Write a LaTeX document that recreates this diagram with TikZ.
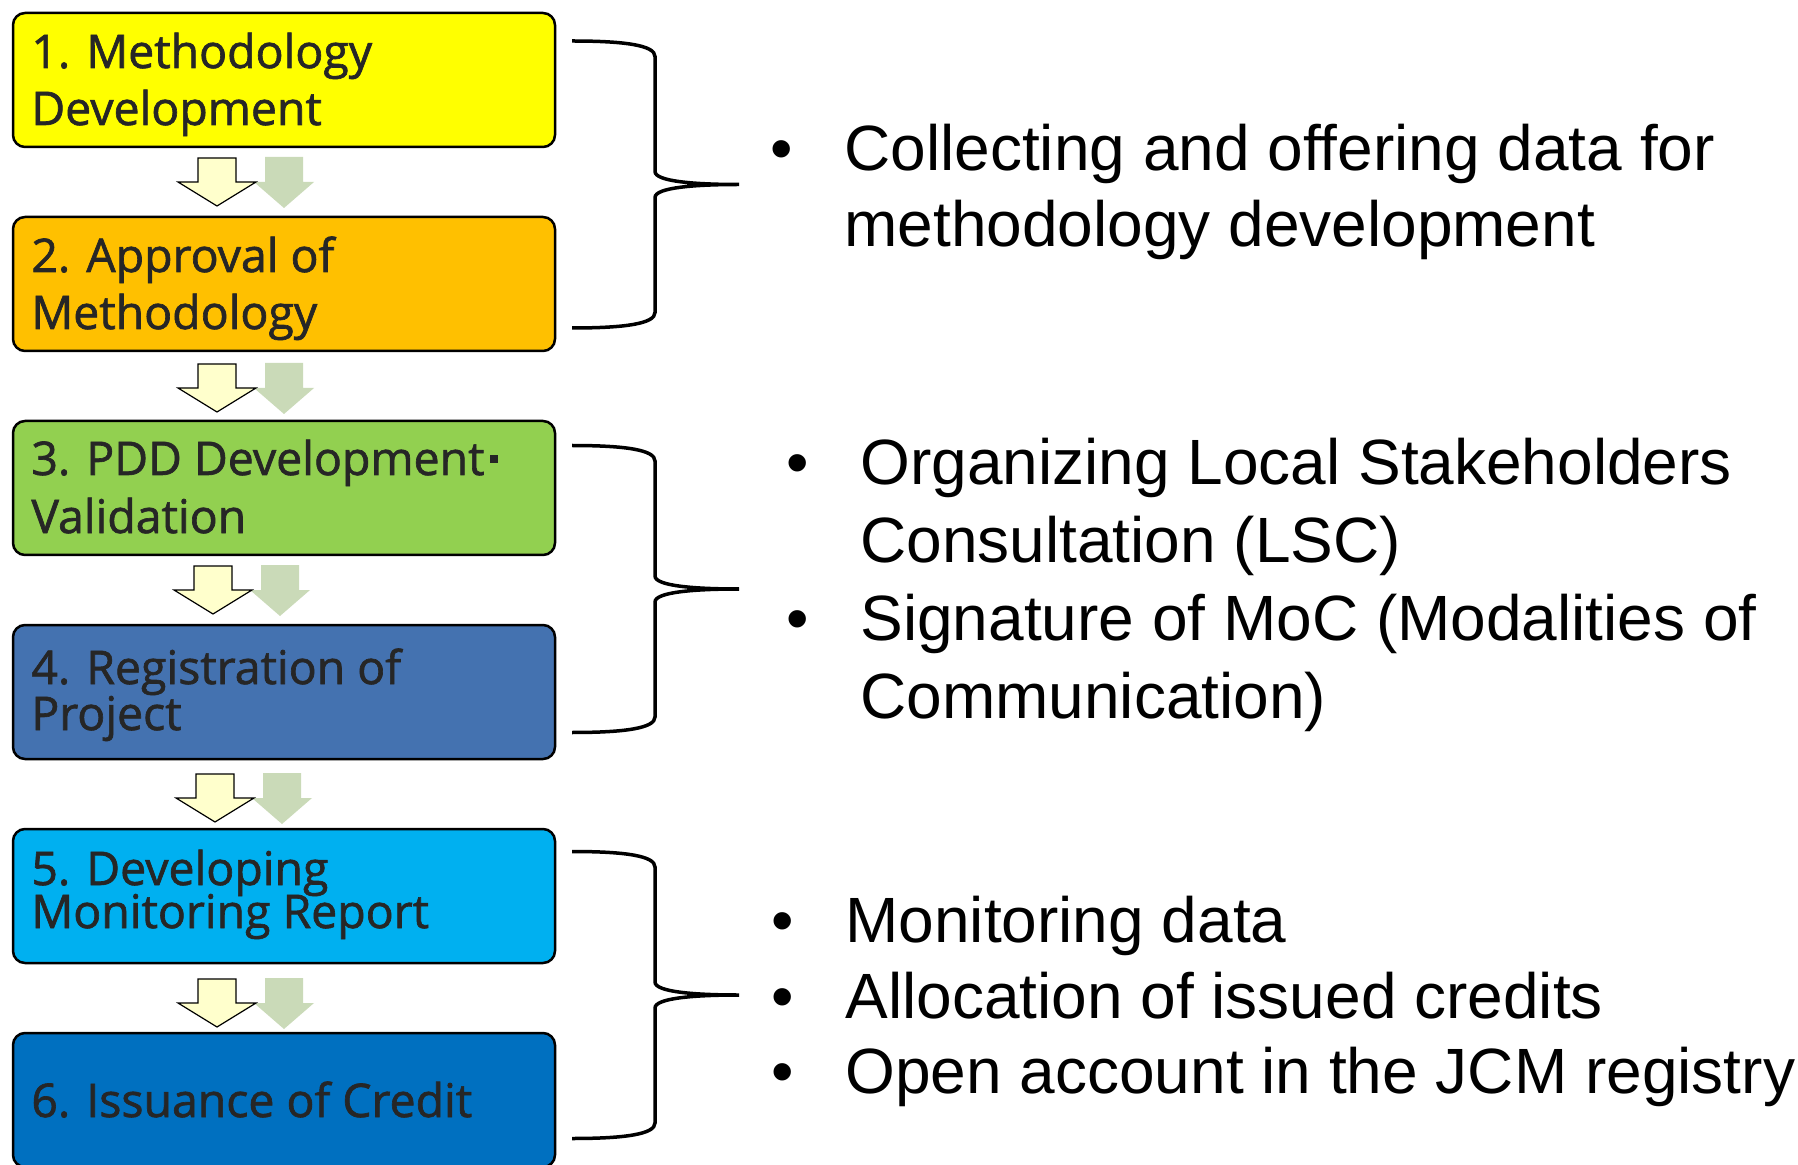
\documentclass[tikz,border=0pt]{standalone}
\usepackage{fontspec}
\setmainfont{Liberation Sans}
\newfontfamily\boxfont{Open Sans}[FakeBold=1.4]
\usetikzlibrary{calc}

\definecolor{ink}{HTML}{262626}
\definecolor{stepA}{HTML}{FFFF00}
\definecolor{stepB}{HTML}{FFC000}
\definecolor{stepC}{HTML}{92D050}
\definecolor{stepD}{HTML}{4472B0}
\definecolor{stepE}{HTML}{00B0F0}
\definecolor{stepF}{HTML}{0070C0}
\definecolor{paleyellow}{HTML}{FFFFCC}
\definecolor{sage}{HTML}{CADAB8}

\tikzset{
  stepbox/.style={draw=black, line width=1.25pt, rounded corners=6pt,
    minimum width=271pt, minimum height=67pt, inner sep=0pt},
  boxtxt/.style={anchor=base west, inner sep=0pt, text=ink,
    font=\boxfont\fontsize{23.2}{27}\selectfont},
  rtxt/.style={anchor=base west, inner sep=0pt, text=black,
    font=\fontsize{32}{38}\selectfont},
  bul/.style={anchor=base, inner sep=0pt, text=black,
    font=\fontsize{32}{38}\selectfont},
  bracepen/.style={draw=black, line width=1.75pt},
  % pair of block arrows between two steps
  pics/flowarrows/.style={code={
    \fill[sage] (115,-1) -- (153,-1) -- (153,24) -- (164,24) -- (134,50)
      -- (104,24) -- (115,24) -- cycle;
    \draw[fill=paleyellow, line width=0.6pt, line join=miter]
      (48,0) -- (86,0) -- (86,24) -- (106,24) -- (67,48)
      -- (28,24) -- (48,24) -- cycle;
  }},
  % curly bracket opening to the right, tip at local (739,0)
  pics/curly/.style={code={
    \draw[bracepen] (572,-143.5) .. controls (626,-143.5) and (655,-139) .. (655,-128)
      -- (655,-13) .. controls (655,-3) and (695,0) .. (739,0)
      .. controls (695,0) and (655,3) .. (655,13)
      -- (655,128) .. controls (655,139) and (626,143.5) .. (572,143.5);
  }}
}

\begin{document}
\begin{tikzpicture}[x=0.5pt, y=-0.5pt]
\useasboundingbox (0,0) rectangle (1798,1165);
\fill[white] (0,0) rectangle (1798,1165);

% process steps
\node[stepbox, fill=stepA] (b1) at (284,80) {};
\node[stepbox, fill=stepB] (b2) at (284,284) {};
\node[stepbox, fill=stepC] (b3) at (284,488) {};
\node[stepbox, fill=stepD] (b4) at (284,692) {};
\node[stepbox, fill=stepE] (b5) at (284,896) {};
\node[stepbox, fill=stepF] (b6) at (284,1100) {};

\node[boxtxt] (t1a) at (31,68) {1. Methodology};
\node[boxtxt] (t1b) at (31,125) {Development};
\node[boxtxt] (t2a) at (31,272) {2. Approval of};
\node[boxtxt] (t2b) at (31,329) {Methodology};
\node[boxtxt] (t3a) at (31,475) {3. PDD Development\hspace{3pt}\rule[6pt]{4pt}{4pt}};
\node[boxtxt] (t3b) at (31,533) {Validation};
\node[boxtxt] (t4a) at (31,684) {4. Registration of};
\node[boxtxt] (t4b) at (31,730) {Project};
\node[boxtxt] (t5a) at (31,885) {5. Developing};
\node[boxtxt] (t5b) at (31,928) {Monitoring Report};
\node[boxtxt] (t6a) at (31,1117) {6. Issuance of Credit};

% arrows between consecutive steps
\pic at (150,158) {flowarrows};
\pic at (150,364) {flowarrows};
\pic at (146,566) {flowarrows};
\pic at (148,774) {flowarrows};
\pic at (150,979) {flowarrows};

% brackets grouping the steps
\pic at (0,184.5) {curly};
\pic at (0,589) {curly};
\pic at (0,995) {curly};

% notes for steps 1-2
\node[bul] (d1) at (782,171) {•};
\node[rtxt] (n1a) at (844,171) {Collecting and offering data for};
\node[rtxt] (n1b) at (844,247) {methodology development};

% notes for steps 3-4
\node[bul] (d2) at (798,485) {•};
\node[rtxt] (n2a) at (860,485) {Organizing Local Stakeholders};
\node[rtxt] (n2b) at (860,562) {Consultation (LSC)};
\node[bul] (d3) at (798,640) {•};
\node[rtxt] (n2c) at (860,640) {Signature of MoC (Modalities of};
\node[rtxt] (n2d) at (860,718) {Communication)};

% notes for steps 5-6
\node[bul] (d4) at (783,942) {•};
\node[rtxt] (n3a) at (845,942) {Monitoring data};
\node[bul] (d5) at (783,1018) {•};
\node[rtxt] (n3b) at (845,1018) {Allocation of issued credits};
\node[bul] (d6) at (783,1093) {•};
\node[rtxt] (n3c) at (845,1093) {Open account in the JCM registry};
\end{tikzpicture}
\end{document}
